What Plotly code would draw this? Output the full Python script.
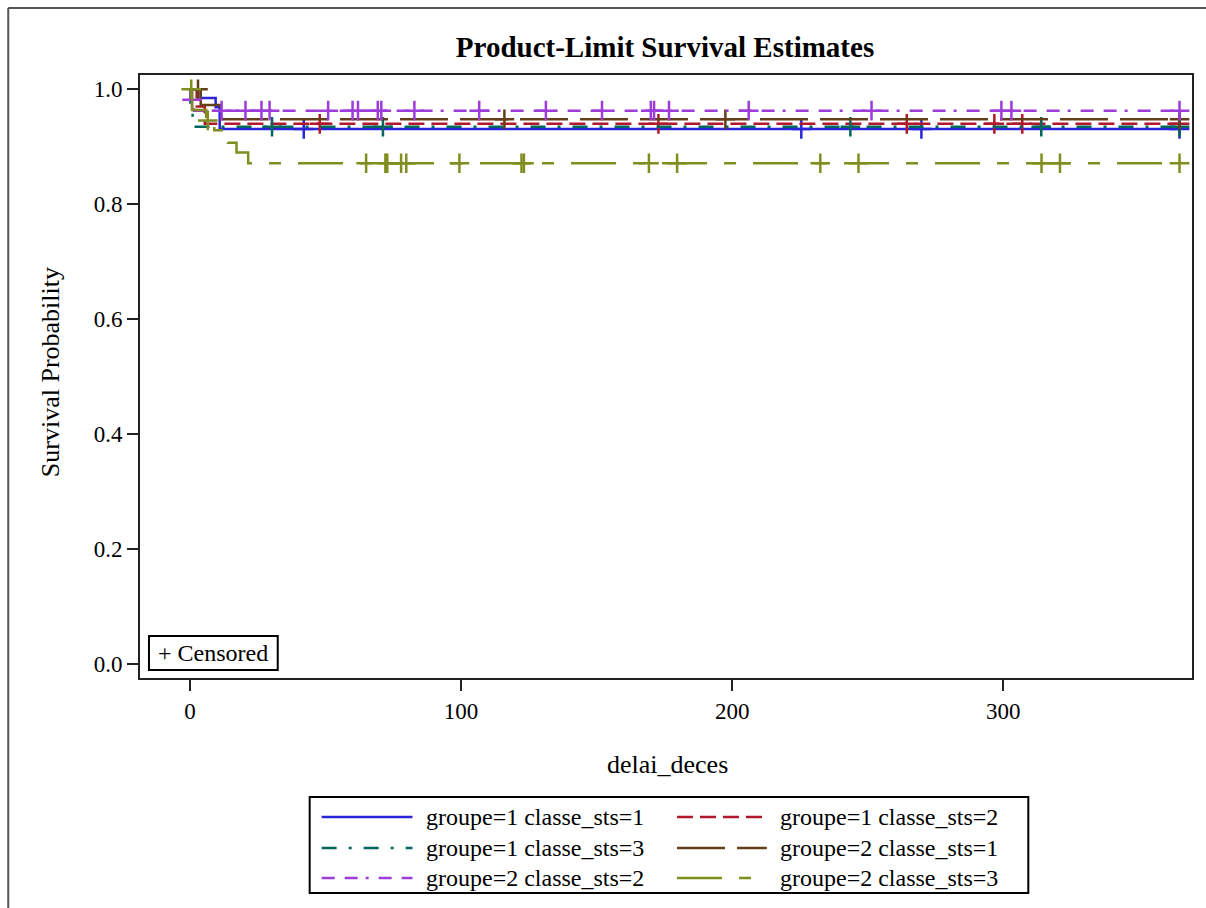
import numpy as np
import plotly.graph_objects as go

# ---------------- data ----------------
series_names = [
    "groupe=1 classe_sts=1", "groupe=1 classe_sts=2", "groupe=1 classe_sts=3",
    "groupe=2 classe_sts=1", "groupe=2 classe_sts=2", "groupe=2 classe_sts=3",
]
end_time = 365

g1c1_event_times = [4, 9.5, 11]
g1c1_survival = [0.985, 0.969, 0.931]
g1c1_censor_times = [42, 225.5, 269.8, 365]

g1c2_event_times = [2.5, 5.5]
g1c2_survival = [0.97, 0.94]
g1c2_censor_times = [47.9, 172.8, 264.4, 296.7, 307, 365]

g1c3_event_times = [0.2, 1.0]
g1c3_survival = [0.968, 0.935]
g1c3_censor_times = [30.3, 71.2, 243.6, 314, 365]

g2c1_event_times = [4, 11]
g2c1_survival = [0.973, 0.948]
g2c1_censor_times = [3, 116, 197.5, 365]

g2c2_event_times = [0.3, 1.5]
g2c2_survival = [0.982, 0.963]
g2c2_censor_times = [0.8, 11.7, 20.5, 26.4, 29.4, 51, 60, 62, 69.3, 70.6, 82.8,
                     106.7, 131.3, 152, 170, 171.2, 176.7, 206.1, 251.4, 299.3, 303, 365]

g2c3_event_times = [0.8, 6, 9, 14, 17.2, 21.5]
g2c3_survival = [0.964, 0.946, 0.929, 0.907, 0.890, 0.8715]
g2c3_censor_times = [0.5, 6.6, 65, 72.1, 72.8, 77.9, 79.8, 99.4, 122.3, 123.2,
                     169.3, 179.7, 232.5, 246.6, 314.1, 320.9, 365]

event_times = [g1c1_event_times, g1c2_event_times, g1c3_event_times,
               g2c1_event_times, g2c2_event_times, g2c3_event_times]
survivals = [g1c1_survival, g1c2_survival, g1c3_survival,
             g2c1_survival, g2c2_survival, g2c3_survival]
censor_times = [g1c1_censor_times, g1c2_censor_times, g1c3_censor_times,
                g2c1_censor_times, g2c2_censor_times, g2c3_censor_times]

y_ticks = [0.0, 0.2, 0.4, 0.6, 0.8, 1.0]
x_ticks = [0, 100, 200, 300]

# ---------------- styles ----------------
colors = ["#2A25D9", "#B2182B", "#01665E", "#63401A", "#9D3CDB", "#7F8E1F"]
dashes = ["solid", "16px,7px", "15px,12px,3px,12px", "48px,12px",
          "13px,10px,13px,8px,3px,10px", "45px,17px,12px,17px"]
FONT = "Liberation Serif"

W, H = 1206, 908
PL, PR, PT, PB = 140, 1194, 75, 678


def px(x):
    return (x - PL) / (PR - PL)


def py(y):
    return (PB - y) / (PB - PT)


fig = go.Figure()

for name, et, sv, ct, col, dsh in zip(series_names, event_times, survivals,
                                       censor_times, colors, dashes):
    xs = [0] + list(et) + [end_time]
    ys = [1.0] + list(sv) + [sv[-1]]
    fig.add_trace(go.Scatter(x=xs, y=ys, mode="lines", line_shape="hv",
                             line=dict(color=col, width=2.5, dash=dsh),
                             name=name, showlegend=False, hoverinfo="skip"))
    et_arr = np.array(et)
    sv_arr = np.concatenate([[1.0], np.array(sv)])
    idx = np.searchsorted(et_arr, np.array(ct), side="right")
    cy = sv_arr[idx]
    fig.add_trace(go.Scatter(x=ct, y=cy, mode="markers",
                             marker=dict(symbol="cross-thin", size=14, color=col,
                                         line=dict(color=col, width=2.5)),
                             showlegend=False, hoverinfo="skip"))

shapes = []
annotations = []

# outer frame
shapes.append(dict(type="line", xref="paper", yref="paper",
                   x0=px(8), x1=px(8), y0=py(8), y1=py(915),
                   line=dict(color="#555", width=2)))
shapes.append(dict(type="line", xref="paper", yref="paper",
                   x0=px(8), x1=px(1215), y0=py(8), y1=py(8),
                   line=dict(color="#555", width=2)))

# censored box
shapes.append(dict(type="rect", xref="paper", yref="paper",
                   x0=px(149), x1=px(278), y0=py(670), y1=py(636),
                   line=dict(color="black", width=2), fillcolor="white"))
annotations.append(dict(xref="paper", yref="paper", x=px(213.5), y=py(653),
                        text="+ Censored", showarrow=False,
                        font=dict(family=FONT, size=24, color="black"),
                        xanchor="center", yanchor="middle"))

# legend box
shapes.append(dict(type="rect", xref="paper", yref="paper",
                   x0=px(310), x1=px(1030), y0=py(893), y1=py(797),
                   line=dict(color="black", width=2)))
row_y = [817, 848, 878]
col_line_x = [(322, 413), (678, 768)]
col_text_x = [425, 779]
for i, (name, col, dsh) in enumerate(zip(series_names, colors, dashes)):
    r, c = divmod(i, 2)
    x0, x1 = col_line_x[c]
    shapes.append(dict(type="line", xref="paper", yref="paper",
                       x0=px(x0), x1=px(x1), y0=py(row_y[r]), y1=py(row_y[r]),
                       line=dict(color=col, width=2.5, dash=dsh)))
    annotations.append(dict(xref="paper", yref="paper", x=px(col_text_x[c]),
                            y=py(row_y[r]), text=name, showarrow=False,
                            font=dict(family=FONT, size=24, color="black"),
                            xanchor="left", yanchor="middle"))

# axis titles
annotations.append(dict(xref="paper", yref="paper", x=px(50), y=py(372),
                        text="Survival Probability", textangle=-90, showarrow=False,
                        font=dict(family=FONT, size=26, color="black"),
                        xanchor="center", yanchor="middle"))
annotations.append(dict(xref="paper", yref="paper", x=px(669), y=py(765),
                        text="delai_deces", showarrow=False,
                        font=dict(family=FONT, size=26, color="black"),
                        xanchor="center", yanchor="middle"))

fig.update_layout(
    width=W, height=H,
    margin=dict(l=PL, r=W - PR, t=PT, b=H - PB, pad=0),
    paper_bgcolor="white", plot_bgcolor="white",
    showlegend=False,
    title=dict(text="<b>Product-Limit Survival Estimates</b>",
               font=dict(family=FONT, size=29, color="black"),
               x=px(666), xref="paper", xanchor="center",
               y=1 - 47 / H, yref="container", yanchor="middle"),
    shapes=shapes, annotations=annotations,
    xaxis=dict(range=[-18.4, 369.6], tickvals=x_ticks,
               ticktext=[str(v) for v in x_ticks],
               ticks="outside", ticklen=11, tickwidth=2, tickcolor="#222",
               showline=True, mirror=True, linecolor="#222", linewidth=2,
               showgrid=False, zeroline=False,
               tickfont=dict(family=FONT, size=23, color="black")),
    yaxis=dict(range=[-0.024, 1.025], tickvals=y_ticks,
               ticktext=[f"{v:.1f}" for v in y_ticks],
               ticks="outside", ticklen=11, tickwidth=2, tickcolor="#222",
               showline=True, mirror=True, linecolor="#222", linewidth=2,
               showgrid=False, zeroline=False,
               tickfont=dict(family=FONT, size=23, color="black")),
)

fig.write_html("out.html")
